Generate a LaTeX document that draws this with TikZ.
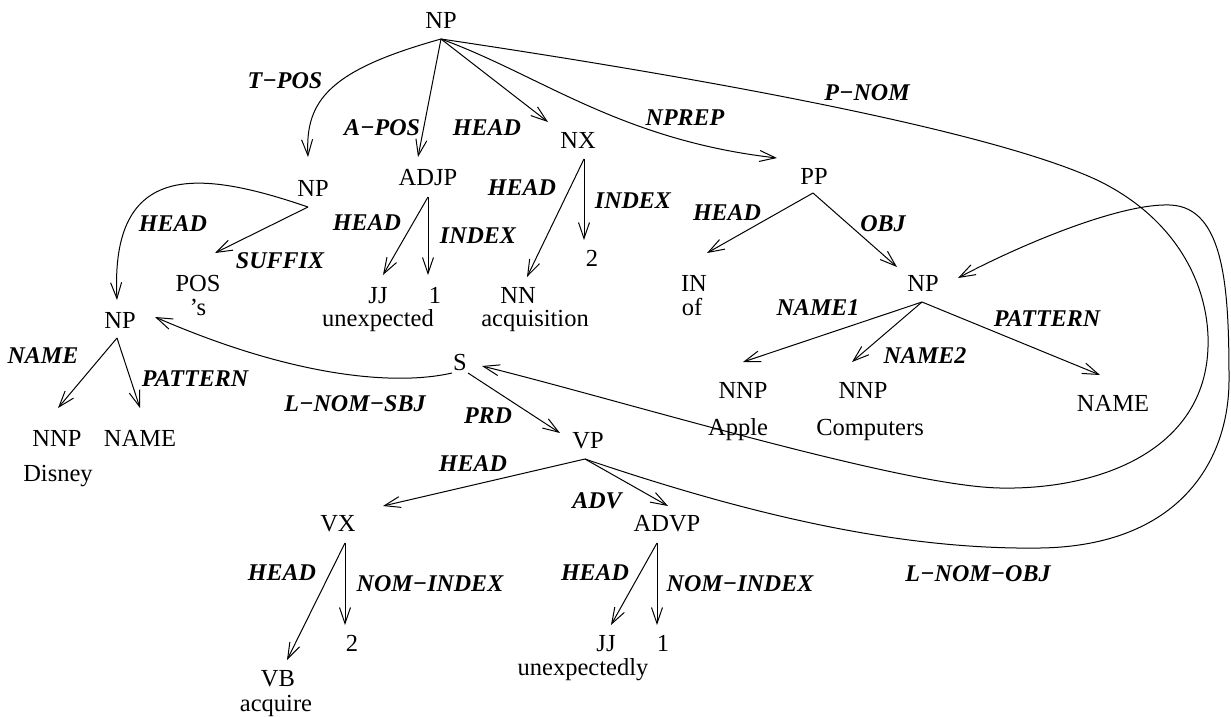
\documentclass[tikz,border=0pt]{standalone}
\usepackage{fontspec}
\setmainfont{Liberation Serif}
\usetikzlibrary{arrows.meta,calc}
\begin{document}
\begin{tikzpicture}[x=1pt,y=-1pt,
  nd/.style={font=\fontsize{24.5}{28}\selectfont, inner sep=0pt, text height=16pt, text depth=0pt},
  lbl/.style={font=\fontsize{24}{28}\selectfont\bfseries\itshape, inner sep=0pt, text height=16pt, text depth=0pt},
  edge/.style={-{Straight Barb[length=16pt,width=11pt]}, line width=1pt}]
\useasboundingbox (0,0) rectangle (1231,716);
% nodes
\node[nd] (np0) at (441,20) {NP};
\node[nd] (np1) at (313,188) {NP};
\node[nd] (adjp) at (428,177) {ADJP};
\node[nd] (nx) at (578,140) {NX};
\node[nd] (pp) at (814,176) {PP};
\node[nd] (np2) at (120,320) {NP};
\node[nd] (pos) at (198,283) {POS};
\node[nd] (poss) at (198,307) {’s};
\node[nd] (jj1) at (378,295) {JJ};
\node[nd] (unexp) at (378,318) {unexpected};
\node[nd] (one1) at (435,295) {1};
\node[nd] (nn) at (518,295) {NN};
\node[nd] (acq) at (535,318) {acquisition};
\node[nd] (two1) at (592,258) {2};
\node[nd] (in) at (694,283) {IN};
\node[nd] (of) at (692,307) {of};
\node[nd] (np3) at (923,283) {NP};
\node[nd] (s) at (460,362) {S};
\node[nd] (vp) at (588,440) {VP};
\node[nd] (vx) at (338,523) {VX};
\node[nd] (advp) at (667,523) {ADVP};
\node[nd] (vb) at (278,678) {VB};
\node[nd] (acquire) at (276,703) {acquire};
\node[nd] (two2) at (352,643) {2};
\node[nd] (jj2) at (606,643) {JJ};
\node[nd] (unexply) at (583,667) {unexpectedly};
\node[nd] (one2) at (663,643) {1};
\node[nd] (nnp1) at (57,438) {NNP};
\node[nd] (disney) at (58,473) {Disney};
\node[nd] (name1) at (140,438) {NAME};
\node[nd] (nnp2) at (743,390) {NNP};
\node[nd] (apple) at (738,427) {Apple};
\node[nd] (nnp3) at (863,390) {NNP};
\node[nd] (comp) at (870,427) {Computers};
\node[nd] (name2) at (1113,403) {NAME};
% labels
\node[lbl] (l1) at (285,80) {T−POS};
\node[lbl] (l2) at (382,127) {A−POS};
\node[lbl] (l3) at (487,127) {HEAD};
\node[lbl] (l4) at (685,117) {NPREP};
\node[lbl] (l5) at (867,92) {P−NOM};
\node[lbl] (l6) at (173,223) {HEAD};
\node[lbl] (l7) at (280,260) {SUFFIX};
\node[lbl] (l8) at (367,222) {HEAD};
\node[lbl] (l9) at (478,235) {INDEX};
\node[lbl] (l10) at (522,187) {HEAD};
\node[lbl] (l11) at (633,200) {INDEX};
\node[lbl] (l12) at (727,212) {HEAD};
\node[lbl] (l13) at (883,223) {OBJ};
\node[lbl] (l14) at (818,307) {NAME1};
\node[lbl] (l15) at (925,355) {NAME2};
\node[lbl] (l16) at (1047,318) {PATTERN};
\node[lbl] (l17) at (43,355) {NAME};
\node[lbl] (l18) at (195,378) {PATTERN};
\node[lbl] (l19) at (355,403) {L−NOM−SBJ};
\node[lbl] (l20) at (488,415) {PRD};
\node[lbl] (l21) at (473,463) {HEAD};
\node[lbl] (l22) at (597,500) {ADV};
\node[lbl] (l23) at (978,573) {L−NOM−OBJ};
\node[lbl] (l24) at (282,572) {HEAD};
\node[lbl] (l25) at (430,583) {NOM−INDEX};
\node[lbl] (l26) at (595,572) {HEAD};
\node[lbl] (l27) at (740,583) {NOM−INDEX};
% edges from top NP
\draw[edge] ($(np0)+(0,19)$) .. controls (330,70) and (305,100) .. ($(np1)+(-5,-31)$);
\draw[edge] ($(np0)+(0,19)$) -- ($(adjp)+(-10,-20)$);
\draw[edge] ($(np0)+(0,19)$) -- ($(nx)+(-30,-18)$);
\draw[edge] ($(np0)+(0,19)$) .. controls (540,75) and (620,140) .. ($(pp)+(-37,-18)$);
\draw[edge] ($(np0)+(0,19)$) .. controls (750,85) and (1000,135) .. (1097,180)
   .. controls (1180,220) and (1210,290) .. (1208,347)
   .. controls (1205,450) and (1100,490) .. (1000,488)
   .. controls (900,486) and (620,400) .. ($(s)+(22,4)$);
% possessive NP
\draw[edge] ($(np1)+(-5,19)$) .. controls (200,170) and (110,160) .. ($(np2)+(-3,-20)$);
\draw[edge] ($(np1)+(-5,19)$) -- ($(pos)+(17,-30)$);
% ADJP
\draw[edge] ($(adjp)+(0,20)$) -- ($(jj1)+(5,-20)$);
\draw[edge] ($(adjp)+(0,20)$) -- ($(one1)+(-7,-20)$);
% NX
\draw[edge] ($(nx)+(6,19)$) -- ($(nn)+(9,-18)$);
\draw[edge] ($(nx)+(6,19)$) -- ($(two1)+(-8,-18)$);
% PP
\draw[edge] ($(pp)+(-1,17)$) -- ($(in)+(13,-30)$);
\draw[edge] ($(pp)+(-1,17)$) -- ($(np3)+(-26,-16)$);
% NP Apple Computers
\draw[edge] ($(np3)+(-1,19)$) -- ($(nnp2)+(0,-28)$);
\draw[edge] ($(np3)+(-1,19)$) -- ($(nnp3)+(-11,-28)$);
\draw[edge] ($(np3)+(-1,19)$) -- ($(name2)+(-13,-28)$);
% NP Disney
\draw[edge] ($(np2)+(-3,18)$) -- ($(nnp1)+(1,-30)$);
\draw[edge] ($(np2)+(-3,18)$) -- ($(name1)+(0,-30)$);
% S
\draw[edge] ($(s)+(-8,11)$) .. controls (400,385) and (300,380) .. ($(np2)+(35,-3)$);
\draw[edge] ($(s)+(8,11)$) -- ($(vp)+(-28,-7)$);
% VP
\draw[edge] ($(vp)+(-3,19)$) -- ($(vx)+(45,-17)$);
\draw[edge] ($(vp)+(-3,19)$) -- ($(advp)+(1,-17)$);
\draw[edge] ($(vp)+(-3,19)$) .. controls (750,515) and (900,550) .. (1040,548)
   .. controls (1180,546) and (1229,460) .. (1229,380)
   .. controls (1229,290) and (1225,207) .. (1170,205)
   .. controls (1120,203) and (1020,245) .. ($(np3)+(35,-5)$);
% VX
\draw[edge] ($(vx)+(7,20)$) -- ($(vb)+(9,-18)$);
\draw[edge] ($(vx)+(7,20)$) -- ($(two2)+(-7,-18)$);
% ADVP
\draw[edge] ($(advp)+(-10,20)$) -- ($(jj2)+(5,-18)$);
\draw[edge] ($(advp)+(-10,20)$) -- ($(one2)+(-6,-18)$);
\end{tikzpicture}
\end{document}
